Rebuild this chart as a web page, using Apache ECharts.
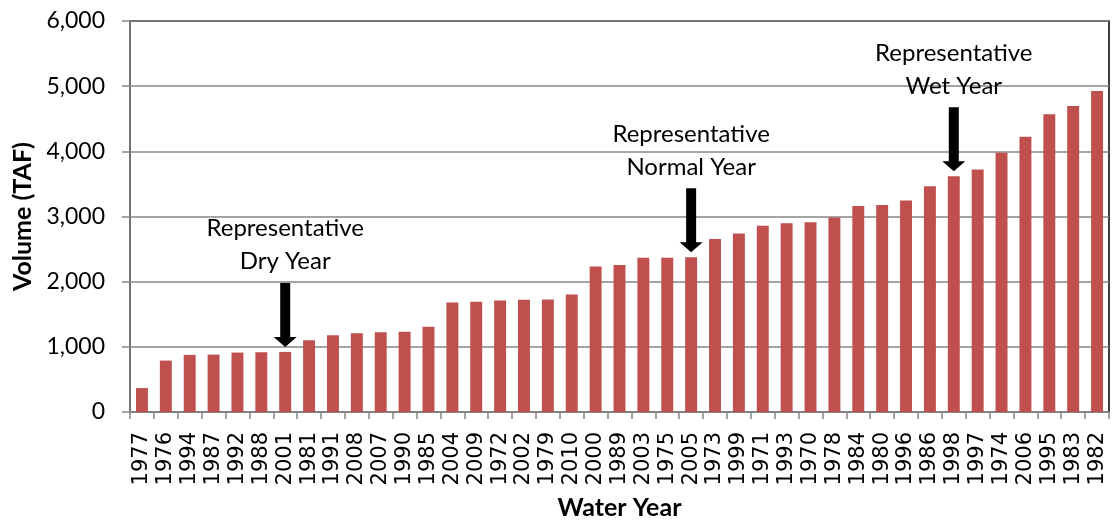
<!DOCTYPE html>
<html>
<head>
<meta charset="utf-8">
<script src="https://cdn.jsdelivr.net/npm/echarts@6/dist/echarts.min.js"></script>
<style>
  html, body { margin: 0; padding: 0; background: #fff; }
  #chart { width: 1112px; height: 525px; }
</style>
</head>
<body>
<div id="chart"></div>
<script>
const BAR = "#C0504D";
const GRID = "#868686";
const FONT = "Lato, 'Open Sans', sans-serif";
const TICK_FONT = "'DejaVu Sans', sans-serif";

const years = [
  "1977", "1976", "1994", "1987", "1992", "1988", "2001", "1981", "1991", "2008",
  "2007", "1990", "1985", "2004", "2009", "1972", "2002", "1979", "2010", "2000",
  "1989", "2003", "1975", "2005", "1973", "1999", "1971", "1993", "1970", "1978",
  "1984", "1980", "1996", "1986", "1998", "1997", "1974", "2006", "1995", "1983", "1982"
];
const volumes = [
  367, 789, 876, 881, 912, 917, 922, 1100, 1177, 1207,
  1222, 1233, 1309, 1681, 1691, 1711, 1721, 1727, 1803, 2231,
  2256, 2368, 2368, 2373, 2653, 2740, 2857, 2898, 2913, 2985,
  3163, 3178, 3244, 3463, 3616, 3723, 3978, 4222, 4569, 4696, 4925
];
const notes = [
  { year: "2001", label: "Representative\nDry Year" },
  { year: "2005", label: "Representative\nNormal Year" },
  { year: "1998", label: "Representative\nWet Year" }
];

const chart = echarts.init(document.getElementById("chart"), null, { renderer: "canvas" });

chart.setOption({
  animation: false,
  textStyle: { fontFamily: FONT },
  grid: {
    left: 130, right: 3, top: 21, bottom: 112,
    show: true, borderColor: "#000", borderWidth: 1.5
  },
  xAxis: {
    type: "category",
    data: years,
    name: "Water Year",
    nameLocation: "middle",
    nameGap: 83,
    nameTextStyle: { fontSize: 25, fontWeight: "bold", color: "#000", fontFamily: FONT },
    axisLine: { lineStyle: { color: GRID, width: 1.5 } },
    axisTick: { show: true, length: 7, lineStyle: { color: GRID, width: 1.5 } },
    axisLabel: { rotate: 90, color: "#000", fontSize: 21, margin: 20, interval: 0, fontFamily: TICK_FONT }
  },
  yAxis: {
    type: "value",
    min: 0, max: 6000, interval: 1000,
    name: "Volume (TAF)",
    nameLocation: "middle",
    nameGap: 95,
    nameTextStyle: { fontSize: 25, fontWeight: "bold", color: "#000", fontFamily: FONT },
    axisLine: { show: true, lineStyle: { color: GRID, width: 1.5 } },
    axisTick: { show: true, length: 8, lineStyle: { color: GRID, width: 1.5 } },
    axisLabel: {
      color: "#000", fontSize: 23, margin: 25, fontFamily: FONT,
      formatter: (v) => v.toLocaleString("en-US")
    },
    splitLine: { lineStyle: { color: GRID, width: 1.5 } }
  },
  series: [
    {
      type: "bar",
      data: volumes,
      barCategoryGap: "50%",
      itemStyle: { color: BAR }
    }
  ]
});

// annotations: text + down arrow anchored above the chosen bars
const graphics = [];
for (const n of notes) {
  const i = years.indexOf(n.year);
  const [x, y] = chart.convertToPixel({ seriesIndex: 0 }, [i, volumes[i]]);
  const tip = y - 5;
  const top = tip - 64;
  graphics.push({
    type: "polygon",
    shape: {
      points: [
        [x - 5, top], [x + 5, top], [x + 5, tip - 10], [x + 11.5, tip - 10],
        [x, tip], [x - 11.5, tip - 10], [x - 5, tip - 10]
      ]
    },
    style: { fill: "#000" }
  });
  graphics.push({
    type: "text",
    x: x,
    y: top - 5,
    style: {
      text: n.label,
      fontSize: 24,
      fontFamily: FONT,
      fill: "#000",
      align: "center",
      verticalAlign: "bottom",
      lineHeight: 33
    }
  });
}
chart.setOption({ graphic: graphics });
</script>
</body>
</html>
